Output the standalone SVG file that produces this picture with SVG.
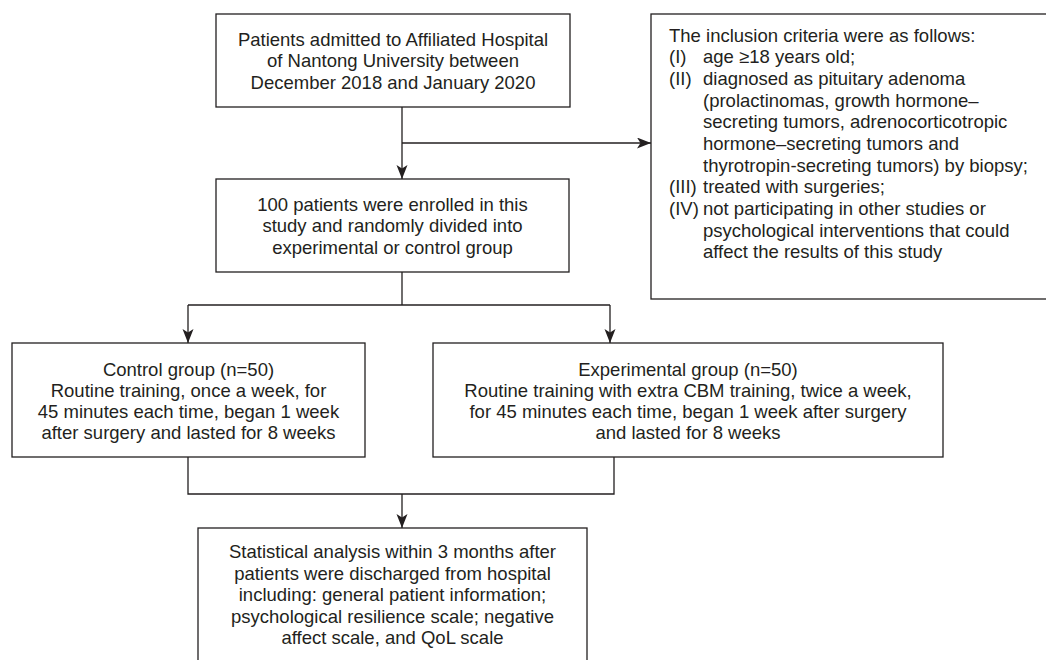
<svg xmlns="http://www.w3.org/2000/svg" width="1046" height="660" viewBox="0 0 1046 660">
<style>
.box{fill:#ffffff;stroke:#231f20;stroke-width:1.3}
.t{font-family:"Liberation Sans",Arial,sans-serif;font-size:18.5px;fill:#231f20}
.c{text-anchor:middle}
.ln{fill:none;stroke:#231f20;stroke-width:1.3}
</style>
<defs>
<marker id="arr" markerUnits="userSpaceOnUse" markerWidth="15" markerHeight="12" refX="14" refY="5.5" orient="auto">
<path d="M0,0 L14,5.5 L0,11 L3.5,5.5 Z" fill="#231f20"/>
</marker>
</defs>
<rect width="1046" height="660" fill="#ffffff"/>
<g id="connectors">
<line class="ln" x1="402" y1="107" x2="402" y2="179" marker-end="url(#arr)"/>
<line class="ln" x1="402" y1="143" x2="651" y2="143" marker-end="url(#arr)"/>
<polyline class="ln" points="402,272 402,305"/>
<polyline class="ln" points="188,305 610,305"/>
<line class="ln" x1="188" y1="305" x2="188" y2="343" marker-end="url(#arr)"/>
<line class="ln" x1="610" y1="305" x2="610" y2="343" marker-end="url(#arr)"/>
<polyline class="ln" points="188,457 188,494 614,494 614,457"/>
<line class="ln" x1="402" y1="494" x2="402" y2="528" marker-end="url(#arr)"/>
</g>
<g id="n_admitted">
<rect class="box" x="216" y="14" width="354" height="93"/>
<text class="t c" x="393" y="45.5">Patients admitted to Affiliated Hospital</text>
<text class="t c" x="393" y="67">of Nantong University between</text>
<text class="t c" x="393" y="88.5">December 2018 and January 2020</text>
</g>
<g id="n_criteria">
<rect class="box" x="651" y="14" width="400" height="285"/>
<text class="t" x="669" y="41.7">The inclusion criteria were as follows:</text>
<text class="t" x="669" y="63.4">(I)</text><text class="t" x="703" y="63.4">age ≥18 years old;</text>
<text class="t" x="669" y="85">(II)</text><text class="t" x="703" y="85">diagnosed as pituitary adenoma</text>
<text class="t" x="703" y="106.7">(prolactinomas, growth hormone–</text>
<text class="t" x="703" y="128.3">secreting tumors, adrenocorticotropic</text>
<text class="t" x="703" y="150">hormone–secreting tumors and</text>
<text class="t" x="703" y="171.7">thyrotropin-secreting tumors) by biopsy;</text>
<text class="t" x="669" y="193.3">(III)</text><text class="t" x="703" y="193.3">treated with surgeries;</text>
<text class="t" x="669" y="215">(IV)</text><text class="t" x="703" y="215">not participating in other studies or</text>
<text class="t" x="703" y="236.6">psychological interventions that could</text>
<text class="t" x="703" y="258.3">affect the results of this study</text>
</g>
<g id="n_enrolled">
<rect class="box" x="216" y="179" width="353" height="93"/>
<text class="t c" x="392.5" y="210.5">100 patients were enrolled in this</text>
<text class="t c" x="392.5" y="232">study and randomly divided into</text>
<text class="t c" x="392.5" y="253.5">experimental or control group</text>
</g>
<g id="n_control">
<rect class="box" x="12" y="343" width="353" height="114"/>
<text class="t c" x="188.5" y="375.5">Control group (n=50)</text>
<text class="t c" x="188.5" y="396.5">Routine training, once a week, for</text>
<text class="t c" x="188.5" y="417.5">45 minutes each time, began 1 week</text>
<text class="t c" x="188.5" y="438.5">after surgery and lasted for 8 weeks</text>
</g>
<g id="n_experimental">
<rect class="box" x="433" y="343" width="510" height="114"/>
<text class="t c" x="688" y="375.5">Experimental group (n=50)</text>
<text class="t c" x="688" y="396.5">Routine training with extra CBM training, twice a week,</text>
<text class="t c" x="688" y="417.5">for 45 minutes each time, began 1 week after surgery</text>
<text class="t c" x="688" y="438.5">and lasted for 8 weeks</text>
</g>
<g id="n_analysis">
<rect class="box" x="198" y="528" width="389" height="140"/>
<text class="t c" x="392.5" y="558">Statistical analysis within 3 months after</text>
<text class="t c" x="392.5" y="579.5">patients were discharged from hospital</text>
<text class="t c" x="392.5" y="601">including: general patient information;</text>
<text class="t c" x="392.5" y="622.5">psychological resilience scale; negative</text>
<text class="t c" x="392.5" y="644">affect scale, and QoL scale</text>
</g>
</svg>
